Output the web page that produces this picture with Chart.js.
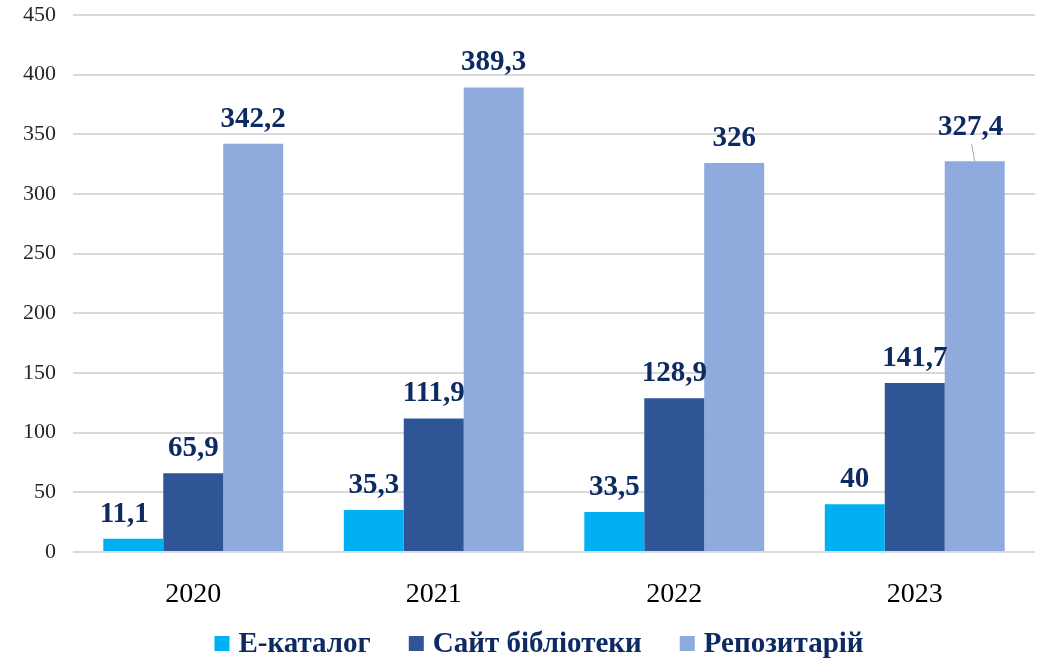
<!DOCTYPE html>
<html>
<head>
<meta charset="utf-8">
<script src="https://cdn.jsdelivr.net/npm/chart.js@4.4.0/dist/chart.umd.min.js"></script>
<style>
    body { margin: 0; background: #fff; }
</style>
</head>
<body>
<canvas id="usageChart" width="1046" height="663"></canvas>
<script>
const years = ['2020', '2021', '2022', '2023'];
const seriesNames = ['Е-каталог', 'Сайт бібліотеки', 'Репозитарій'];
const catalogValues = [11.1, 35.3, 33.5, 40];
const siteValues = [65.9, 111.9, 128.9, 141.7];
const repoValues = [342.2, 389.3, 326, 327.4];
const yTicks = [0, 50, 100, 150, 200, 250, 300, 350, 400, 450];

const colors = ['#00b0f0', '#2f5597', '#8faadc'];
const labelColor = '#0d2a62';
const serif = '"Liberation Serif", "Times New Roman", serif';

// a couple of labels sit off their bars in the original
const labelShift = { '0-0': { dx: -9, dy: 0 }, '2-3': { dx: -4, dy: -9, leader: true } };

const valueLabels = {
    id: 'valueLabels',
    afterDatasetsDraw(chart) {
        const ctx = chart.ctx;
        ctx.save();
        ctx.font = 'bold 29px ' + serif;
        ctx.fillStyle = labelColor;
        ctx.textAlign = 'center';
        ctx.textBaseline = 'alphabetic';
        chart.data.datasets.forEach((ds, di) => {
            chart.getDatasetMeta(di).data.forEach((bar, i) => {
                const shift = labelShift[di + '-' + i] || { dx: 0, dy: 0 };
                const x = bar.x + shift.dx;
                const y = bar.y - 17 + shift.dy;
                ctx.fillText(String(ds.data[i]).replace('.', ','), x, y);
                if (shift.leader) {
                    ctx.strokeStyle = '#a6a6a6';
                    ctx.lineWidth = 1;
                    ctx.beginPath();
                    ctx.moveTo(x + 1, y + 9);
                    ctx.lineTo(bar.x, bar.y);
                    ctx.stroke();
                }
            });
        });
        ctx.restore();
    }
};

// legend drawn by hand: square, small gap, bold serif name
const bottomLegend = {
    id: 'bottomLegend',
    afterDraw(chart) {
        const ctx = chart.ctx;
        ctx.save();
        ctx.font = 'bold 29px ' + serif;
        ctx.textBaseline = 'middle';
        const box = 15, gap = 9, spacing = 38, cy = 644;
        const widths = seriesNames.map(n => box + gap + ctx.measureText(n).width);
        const total = widths.reduce((a, b) => a + b, 0) + spacing * (widths.length - 1);
        let x = 539 - total / 2;
        seriesNames.forEach((name, i) => {
            ctx.fillStyle = colors[i];
            ctx.fillRect(x, cy - 8, box, box);
            ctx.fillStyle = labelColor;
            ctx.fillText(name, x + box + gap, cy + 1);
            x += widths[i] + spacing;
        });
        ctx.restore();
    }
};

const ctx = document.getElementById('usageChart').getContext('2d');
new Chart(ctx, {
    type: 'bar',
    data: {
        labels: years,
        datasets: [catalogValues, siteValues, repoValues].map((vals, i) => ({
            label: seriesNames[i],
            data: vals,
            backgroundColor: colors[i],
            borderWidth: 0,
            categoryPercentage: 0.748,
            barPercentage: 1
        }))
    },
    options: {
        responsive: false,
        animation: false,
        layout: { padding: { top: 0, right: 11, left: 0, bottom: 43 } },
        plugins: {
            legend: { display: false },
            tooltip: { enabled: false }
        },
        scales: {
            x: {
                grid: { display: false },
                border: { display: false },
                ticks: {
                    color: '#000',
                    padding: 18,
                    font: { family: serif, size: 28 }
                },
                afterFit: (scale) => { scale.height = 68; }
            },
            y: {
                min: 0,
                max: 450,
                afterBuildTicks: (scale) => { scale.ticks = yTicks.map(v => ({ value: v })); },
                grid: { color: '#d9d9d9', lineWidth: 2, drawTicks: false },
                border: { display: false },
                ticks: {
                    color: '#262626',
                    padding: 17,
                    font: { family: serif, size: 22 }
                },
                afterFit: (scale) => {
                    scale.width = 73;
                    scale.paddingTop = 15;
                    scale.paddingBottom = 0;
                }
            }
        }
    },
    plugins: [valueLabels, bottomLegend]
});
</script>
</body>
</html>
